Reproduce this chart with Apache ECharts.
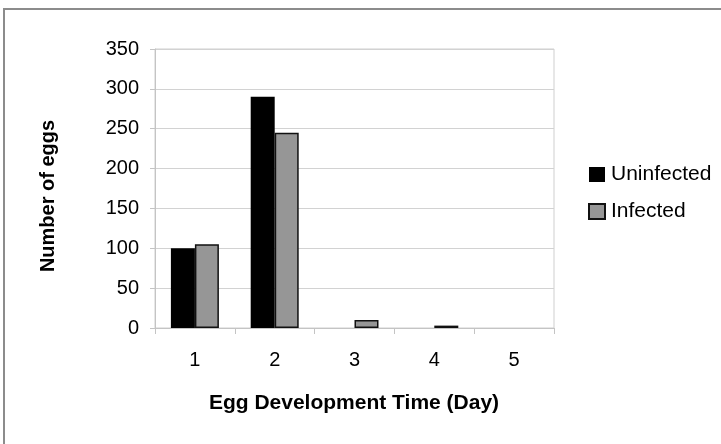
<!DOCTYPE html>
<html>
<head>
<meta charset="utf-8">
<script src="https://cdn.jsdelivr.net/npm/echarts@6/dist/echarts.min.js"></script>
<style>
  html, body { margin: 0; padding: 0; background: #fff; }
  #chart { width: 721px; height: 444px; }
</style>
</head>
<body>
<div id="chart"></div>
<script>
// Egg counts by development time (days)
const days = ['1', '2', '3', '4', '5'];
const uninfected = [100, 290, 0, 0, 0];
const infected = [105, 245, 10, 3, 0];
const yTicks = { min: 0, max: 350, step: 50 };

const FONT = "'Liberation Sans', Arial, sans-serif";

// zero-height bars get no outline so nothing shows on the baseline
const withOutline = (values) =>
  values.map(v => (v === 0 ? { value: v, itemStyle: { borderWidth: 0 } } : v));

const chart = echarts.init(document.getElementById('chart'), null, { renderer: 'canvas' });

chart.setOption({
  animation: false,
  backgroundColor: '#ffffff',
  textStyle: { fontFamily: FONT },
  grid: {
    left: 155, top: 49, right: 167, bottom: 116,
    show: true, borderColor: '#cfcfcf', borderWidth: 1
  },
  xAxis: {
    type: 'category',
    data: days,
    axisLine: { lineStyle: { color: '#c4c4c4', width: 1 } },
    axisTick: { show: true, length: 6, lineStyle: { color: '#c4c4c4' } },
    axisLabel: { color: '#000', fontSize: 20, fontFamily: FONT, margin: 22 },
    splitLine: { show: false }
  },
  yAxis: {
    type: 'value',
    min: yTicks.min, max: yTicks.max, interval: yTicks.step,
    axisLine: { show: true, lineStyle: { color: '#c4c4c4', width: 1 } },
    axisTick: { show: true, length: 5, lineStyle: { color: '#c4c4c4' } },
    axisLabel: { color: '#000', fontSize: 20, fontFamily: FONT, margin: 16 },
    splitLine: { show: true, lineStyle: { color: '#d2d2d2', width: 1 } }
  },
  legend: {
    orient: 'vertical',
    left: 583, top: 159,
    itemWidth: 16, itemHeight: 15, itemGap: 16,
    icon: 'rect',
    textStyle: { color: '#000', fontSize: 21, fontFamily: FONT, lineHeight: 21, padding: [0, 0, 0, 1] },
    data: ['Uninfected', 'Infected']
  },
  series: [
    {
      name: 'Uninfected',
      type: 'bar',
      data: uninfected,
      barWidth: 24,
      barGap: '0%',
      itemStyle: { color: '#000000', borderColor: '#000000', borderWidth: 0 }
    },
    {
      name: 'Infected',
      type: 'bar',
      data: withOutline(infected),
      barWidth: 24,
      barGap: '0%',
      itemStyle: { color: '#969696', borderColor: '#111111', borderWidth: 1.5 }
    }
  ],
  graphic: [
    {
      type: 'rect',
      z: -10,
      shape: { x: 4, y: 9, width: 800, height: 500 },
      style: { fill: 'none', stroke: '#8c8c8c', lineWidth: 2 },
      silent: true
    },
    {
      type: 'text',
      x: 48, y: 196,
      rotation: Math.PI / 2,
      style: {
        text: 'Number of eggs',
        fill: '#000',
        font: 'bold 20px ' + FONT,
        align: 'center',
        verticalAlign: 'middle'
      }
    },
    {
      type: 'text',
      x: 354, y: 403,
      style: {
        text: 'Egg Development Time (Day)',
        fill: '#000',
        font: 'bold 21px ' + FONT,
        align: 'center',
        verticalAlign: 'middle'
      }
    }
  ]
});
</script>
</body>
</html>
